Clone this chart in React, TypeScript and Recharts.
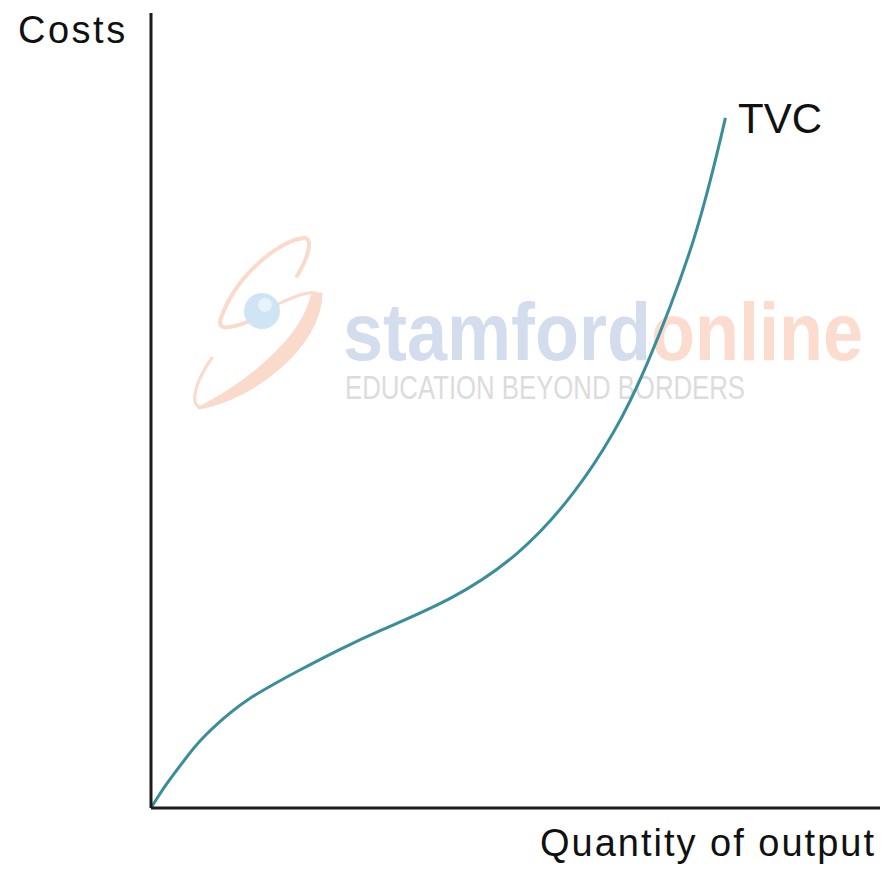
import { LineChart, Line, XAxis, YAxis } from "recharts";

// quantity of output (0-100 scale across the x axis)
const quantity = [0, 2.05, 4.56, 6.85, 10.0, 13.25, 16.9, 20.1, 25.6, 31.9, 41.1, 50.3, 57.9, 63.4, 68.1, 74.4, 78.8];
// total variable cost (0-100 scale up the y axis)
const tvc = [0, 2.9, 6.0, 8.55, 11.3, 13.6, 15.6, 17.2, 19.8, 22.5, 26.4, 32.1, 39.6, 47.2, 56.0, 71.4, 86.8];

const data = quantity.map((q, i) => ({ q, tvc: tvc[i] }));

const W = 887;
const H = 872;
const font = "'Liberation Sans', Arial, sans-serif";
const peach = "#f9dacb";

function Watermark() {
  return (
    <svg width={W} height={H} style={{ position: "absolute", left: 0, top: 0 }}>
      {/* upper loop of the logo */}
      <path
        d="M 297 276 C 308 258 314 238 304 238 C 280 240 236 275 221 318 C 216 332 232 328 250 321"
        fill="none"
        stroke={peach}
        strokeWidth={4}
        strokeLinecap="round"
      />
      {/* lower crescent */}
      <path
        d="M 321 294 C 320 345 255 398 199 408 C 245 385 302 340 312 296 Z"
        fill={peach}
        stroke={peach}
        strokeWidth={3}
        strokeLinejoin="round"
      />
      <path
        d="M 212 358 C 196 380 190 402 199 407 M 318 294 C 310 290 296 296 278 304"
        fill="none"
        stroke={peach}
        strokeWidth={3}
        strokeLinecap="round"
      />
      <circle cx={262} cy={311} r={18} fill="#cfe5f5" />
      <circle cx={265} cy={305} r={7} fill="#e6f3fb" />
      <text
        x={343}
        y={360}
        fontFamily={font}
        fontWeight="bold"
        fontSize={82}
        textLength={520}
        lengthAdjust="spacingAndGlyphs"
      >
        <tspan fill="#d3dded">stamford</tspan>
        <tspan fill="#fbdccf">online</tspan>
      </text>
      <text
        x={345}
        y={399}
        fontFamily={font}
        fontSize={34}
        fill="#dcdcdc"
        textLength={400}
        lengthAdjust="spacingAndGlyphs"
      >
        EDUCATION BEYOND BORDERS
      </text>
    </svg>
  );
}

function Labels() {
  return (
    <svg width={W} height={H} style={{ position: "absolute", left: 0, top: 0, pointerEvents: "none" }}>
      <text x={18} y={43} fontFamily={font} fontSize={38} letterSpacing={2.5} fill="#111">
        Costs
      </text>
      <text x={738} y={133} fontFamily={font} fontSize={42} fill="#111">
        TVC
      </text>
      <text x={540} y={856} fontFamily={font} fontSize={38} letterSpacing={2} fill="#111">
        Quantity of output
      </text>
    </svg>
  );
}

export default function App() {
  return (
    <div style={{ position: "absolute", left: 0, top: 0, width: W, height: H, background: "#fff" }}>
      <Watermark />
      <div style={{ position: "absolute", left: 0, top: 0 }}>
        <LineChart width={W} height={H} data={data} margin={{ top: 13, right: 7, left: 150, bottom: 63 }}>
          <XAxis
            dataKey="q"
            type="number"
            domain={[0, 100]}
            tick={false}
            tickLine={false}
            height={1}
            axisLine={{ stroke: "#1c1c1c", strokeWidth: 3 }}
          />
          <YAxis
            type="number"
            domain={[0, 100]}
            tick={false}
            tickLine={false}
            width={1}
            axisLine={{ stroke: "#1c1c1c", strokeWidth: 3 }}
          />
          <Line
            dataKey="tvc"
            type="natural"
            stroke="#3a8e99"
            strokeWidth={3}
            dot={false}
            isAnimationActive={false}
          />
        </LineChart>
      </div>
      <Labels />
    </div>
  );
}
